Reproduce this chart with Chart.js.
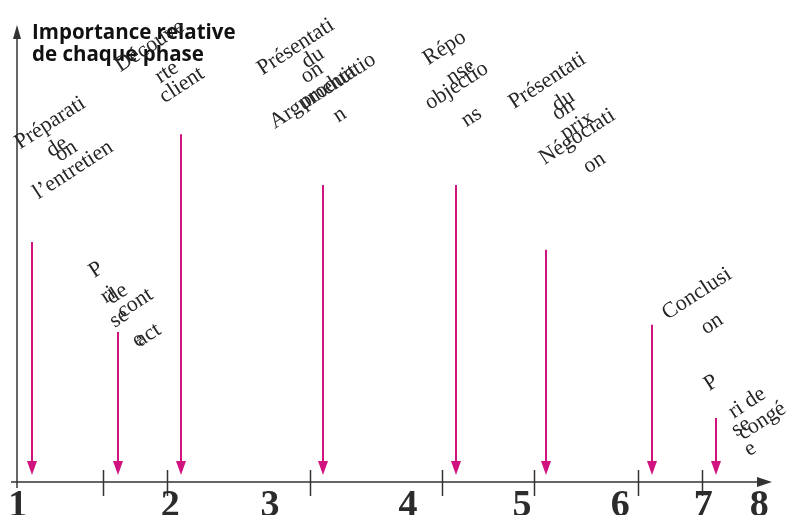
<!DOCTYPE html>
<html>
<head>
<meta charset="utf-8">
<script src="https://cdn.jsdelivr.net/npm/chart.js@4"></script>
<style>
    html, body { margin: 0; padding: 0; background: #fff; }
    #wrap { width: 788px; height: 515px; position: relative; }
</style>
</head>
<body>
<div id="wrap"><canvas id="phaseChart"></canvas></div>
<script>
// phases of the sales interview, in order
const phases = [
    'Préparation de l’entretien',
    'Prise de contact',
    'Découverte client',
    'Présentation du produit / Argumentation',
    'Réponse objections',
    'Présentation du prix / Négociation',
    'Conclusion',
    'Prise de congé'
];
// the broken, wrapped text as it appears on the picture
const phaseLines = [
    ['Préparati', 'de', 'on', 'l’entretien'],
    ['P', 'ri', 'de', 'se', 'cont', 'act', 'e'],
    ['Découve', 'rte', 'client'],
    ['Présentati', 'du', 'on', 'produit', 'Argumentatio', 'n'],
    ['Répo', 'nse', 'objectio', 'ns'],
    ['Présentati', 'du', 'on', 'prix', 'Négociati', 'on'],
    ['Conclusi', 'on'],
    ['P', 'ri de', 'se', 'congé', 'e']
];
const phasePosition = [2.0, 13.4, 21.7, 40.5, 58.1, 70.1, 84.1, 92.6];
const phaseImportance = [52.5, 32.8, 76.1, 65.0, 65.0, 50.8, 34.4, 14.0];
const dividers = [11.4, 19.9, 38.8, 56.3, 68.5, 82.3, 90.7];
const tickLabels = ['1', '2', '3', '4', '5', '6', '7', '8'];
const tickPositions = [0.1, 20.3, 33.5, 51.8, 66.9, 79.9, 90.9, 98.3];
const axisTitle = ['Importance relative', 'de chaque phase'];

const MAGENTA = '#d0137e';
const AXIS = '#333333';

// where each text line sits, relative to the top of its arrow
const lineOffsets = [
    [[18, -119], [25, -95], [34, -91], [41, -72]],
    [[-22, -62], [-10, -37], [-1, -38], [1, -14], [17, -29], [30, 3], [20, 8]],
    [[-31, -88], [-14, -62], [1, -49]],
    [[-27, -138], [-10, -127], [-11, -112], [5, -98], [0, -94], [17, -70]],
    [[-11, -137], [5, -113], [1, -99], [16, -68]],
    [[1, -169], [17, -149], [17, -140], [31, -124], [31, -113], [48, -87]],
    [[45, -31], [60, -1]],
    [[-5, -35], [31, -15], [25, 9], [46, 3], [34, 31]]
];

const phaseDrawing = {
    id: 'phaseDrawing',
    afterDatasetsDraw(chart) {
        const ctx = chart.ctx;
        const xs = chart.scales.x;
        const ys = chart.scales.y;
        const y0 = ys.getPixelForValue(0);
        const left = xs.getPixelForValue(0);

        ctx.save();
        ctx.strokeStyle = AXIS;
        ctx.fillStyle = AXIS;
        ctx.lineWidth = 1.5;

        // x axis with arrow
        ctx.beginPath();
        ctx.moveTo(left - 6, y0);
        ctx.lineTo(758, y0);
        ctx.stroke();
        ctx.beginPath();
        ctx.moveTo(772, y0);
        ctx.lineTo(757, y0 - 5);
        ctx.lineTo(757, y0 + 5);
        ctx.closePath();
        ctx.fill();

        // y axis with arrow
        ctx.beginPath();
        ctx.moveTo(left, y0 + 6);
        ctx.lineTo(left, ys.top + 12);
        ctx.stroke();
        ctx.beginPath();
        ctx.moveTo(left, ys.top);
        ctx.lineTo(left - 4, ys.top + 14);
        ctx.lineTo(left + 4, ys.top + 14);
        ctx.closePath();
        ctx.fill();

        // phase dividers
        dividers.forEach(v => {
            const px = Math.round(xs.getPixelForValue(v)) + 0.5;
            ctx.beginPath();
            ctx.moveTo(px, y0 - 12);
            ctx.lineTo(px, y0 + 14);
            ctx.stroke();
        });

        // numbers under the axis
        ctx.font = 'bold 38px "Liberation Serif", serif';
        ctx.textAlign = 'center';
        ctx.textBaseline = 'alphabetic';
        ctx.fillStyle = '#2b2b2b';
        tickLabels.forEach((t, i) => {
            ctx.fillText(t, xs.getPixelForValue(tickPositions[i]), y0 + 34);
        });

        // axis title
        ctx.font = 'bold 20.5px "Open Sans", sans-serif';
        ctx.textAlign = 'left';
        ctx.fillStyle = '#111';
        ctx.fillText(axisTitle[0], left + 15, ys.top + 14, 206);
        ctx.fillText(axisTitle[1], left + 15, ys.top + 36, 178);

        // arrows
        const meta = chart.getDatasetMeta(0);
        ctx.strokeStyle = MAGENTA;
        ctx.fillStyle = MAGENTA;
        ctx.lineWidth = 2;
        meta.data.forEach(pt => {
            const px = Math.round(pt.x);
            const tip = y0 - 7;
            ctx.beginPath();
            ctx.moveTo(px, pt.y);
            ctx.lineTo(px, tip - 10);
            ctx.stroke();
            ctx.beginPath();
            ctx.moveTo(px, tip);
            ctx.lineTo(px - 5, tip - 14);
            ctx.lineTo(px + 5, tip - 14);
            ctx.closePath();
            ctx.fill();
        });

        // rotated labels
        ctx.font = '22px "Liberation Serif", serif';
        ctx.fillStyle = '#262626';
        ctx.textAlign = 'center';
        ctx.textBaseline = 'middle';
        meta.data.forEach((pt, i) => {
            phaseLines[i].forEach((line, j) => {
                const off = lineOffsets[i][j];
                ctx.save();
                ctx.translate(pt.x + off[0], pt.y + off[1]);
                ctx.rotate(-33 * Math.PI / 180);
                ctx.fillText(line, 0, 0);
                ctx.restore();
            });
        });

        ctx.restore();
    }
};

new Chart(document.getElementById('phaseChart'), {
    type: 'scatter',
    data: {
        datasets: [{
            label: 'Importance relative',
            data: phasePosition.map((x, i) => ({ x: x, y: phaseImportance[i], phase: phases[i] })),
            pointRadius: 0,
            pointHoverRadius: 0
        }]
    },
    options: {
        responsive: true,
        maintainAspectRatio: false,
        animation: false,
        layout: { padding: { left: 17, right: 16, top: 25, bottom: 33 } },
        plugins: {
            legend: { display: false },
            tooltip: { enabled: false }
        },
        scales: {
            x: { type: 'linear', min: 0, max: 100, display: false },
            y: { min: 0, max: 100, display: false }
        }
    },
    plugins: [phaseDrawing]
});
</script>
</body>
</html>
